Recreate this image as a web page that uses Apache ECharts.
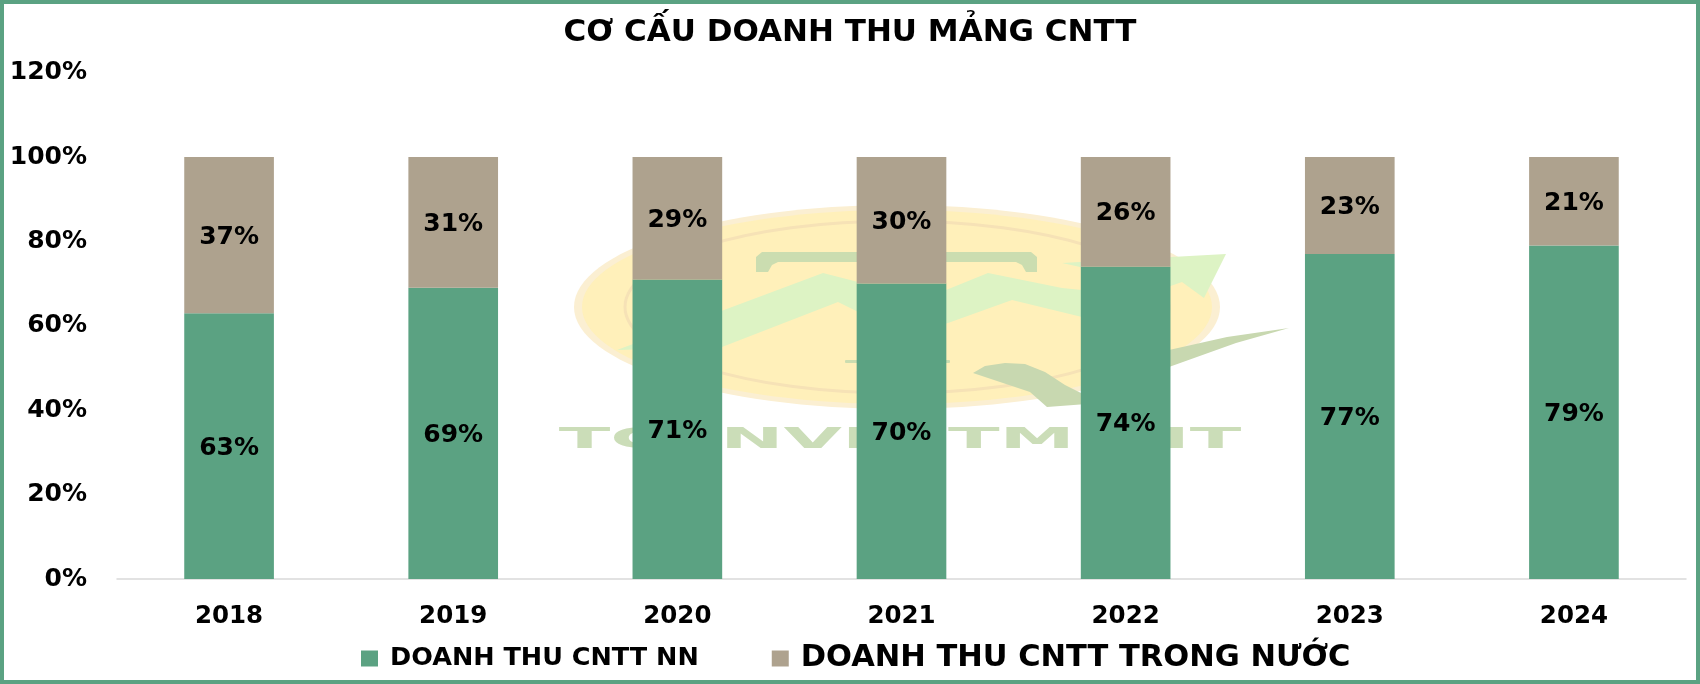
<!DOCTYPE html>
<html><head><meta charset="utf-8">
<style>html,body{margin:0;padding:0;background:#fff}#c{width:1700px;height:684px}</style>
<script src="https://cdn.jsdelivr.net/npm/echarts@6/dist/echarts.min.js"></script>
</head><body><div id="c"></div>
<script>
const titleText = 'CƠ CẤU DOANH THU MẢNG CNTT';
const years = ['2018','2019','2020','2021','2022','2023','2024'];
const foreignName = 'DOANH THU CNTT NN';
const domesticName = 'DOANH THU CNTT TRONG NƯỚC';
const foreignShare = [63,69,71,70,74,77,79];
const domesticShare = [37,31,29,30,26,23,21];
const GREEN = '#5BA282', TAN = '#AEA28E';
const FONT = '"DejaVu Sans"';

const chart = echarts.init(document.getElementById('c'));
const lbl = {show:true, position:'inside', offset:[0,2], formatter:p=>p.value+'%', color:'#000', fontFamily:FONT, fontWeight:'bold', fontSize:25};
const wm = [
  {type:'ellipse', shape:{cx:897,cy:307,rx:323,ry:102}, style:{fill:'#FBEFD2'}},
  {type:'ellipse', shape:{cx:897,cy:307,rx:315,ry:97}, style:{fill:'#FFF0BA'}},
  {type:'ellipse', shape:{cx:897,cy:307,rx:272,ry:86}, style:{fill:'#FFF0BA', stroke:'#F6E2B6', lineWidth:3}},
  {type:'polygon', shape:{points:[[756,272],[756,257],[762,252],[1031,252],[1037,257],[1037,272],[1026,272],[1022,265],[1016,262],[778,262],[772,265],[768,272]]}, style:{fill:'#CBDDB0'}},
  {type:'rect', shape:{x:845,y:360,width:105,height:3,r:1}, style:{fill:'#CBDDB0'}},
  {type:'polygon', shape:{points:[[617,350],[823,273],[858,282],[905,300],[946,290],[988,273],[1062,288],[1082,290],[1130,278],[1062,263],[1226,254],[1204,298],[1182,282],[1082,317],[1012,300],[948,323],[905,335],[838,302],[722,347]]}, style:{fill:'#DDF3C4'}},
  {type:'polygon', shape:{points:[[973,373],[985,366],[1005,363],[1025,364],[1045,372],[1065,385],[1085,395],[1120,375],[1169,350],[1227,337],[1289,328],[1236,343],[1169,367],[1130,395],[1100,403],[1047,407],[1030,392],[1000,382]]}, style:{fill:'#C8D8B0'}},
  {type:'text', x:900, y:441, scaleX:2.7, style:{text:'TC INVESTMENT', fill:'#CBDDB8', font:'bold 28px '+FONT, align:'center', verticalAlign:'middle'}}
];
chart.setOption({
  animation:false,
  backgroundColor:'#fff',
  title:{text:titleText, left:845, top:12, textAlign:'center', textStyle:{fontFamily:FONT, fontWeight:'bold', fontSize:31, color:'#000'}},
  legend:{
    left:356, top:638, itemWidth:17, itemHeight:16, itemGap:73, icon:'rect',
    data:[
      {name:foreignName, textStyle:{fontSize:25.5, padding:[0,0,0,7], fontFamily:FONT, fontWeight:'bold', color:'#000'}},
      {name:domesticName, textStyle:{fontSize:30.5, padding:[0,0,0,7], fontFamily:FONT, fontWeight:'bold', color:'#000'}}
    ],
    textStyle:{fontFamily:FONT, fontWeight:'bold', color:'#000'}
  },
  grid:{left:117, right:14, top:72.6, bottom:105, containLabel:false},
  xAxis:{type:'category', data:years, axisTick:{show:false}, axisLine:{lineStyle:{color:'#D9D9D9', width:1.5}},
    axisLabel:{color:'#000', fontFamily:FONT, fontWeight:'bold', fontSize:24.5, margin:25}},
  yAxis:{type:'value', min:0, max:120, interval:20, splitLine:{show:false}, axisLine:{show:false}, axisTick:{show:false},
    axisLabel:{formatter:'{value}%', color:'#000', fontFamily:FONT, fontWeight:'bold', fontSize:25, margin:30}},
  series:[
    {name:foreignName, type:'bar', stack:'t', data:foreignShare, barWidth:'40%', itemStyle:{color:GREEN}, label:lbl, z:3},
    {name:domesticName, type:'bar', stack:'t', data:domesticShare, barWidth:'40%', itemStyle:{color:TAN}, label:lbl, z:3}
  ],
  graphic:{elements:[
    {type:'group', z:0, zlevel:0, silent:true, children:wm},
    {type:'rect', z:10, silent:true, shape:{x:2,y:2,width:1696,height:680}, style:{fill:'none', stroke:GREEN, lineWidth:4}}
  ]}
});
</script></body></html>
